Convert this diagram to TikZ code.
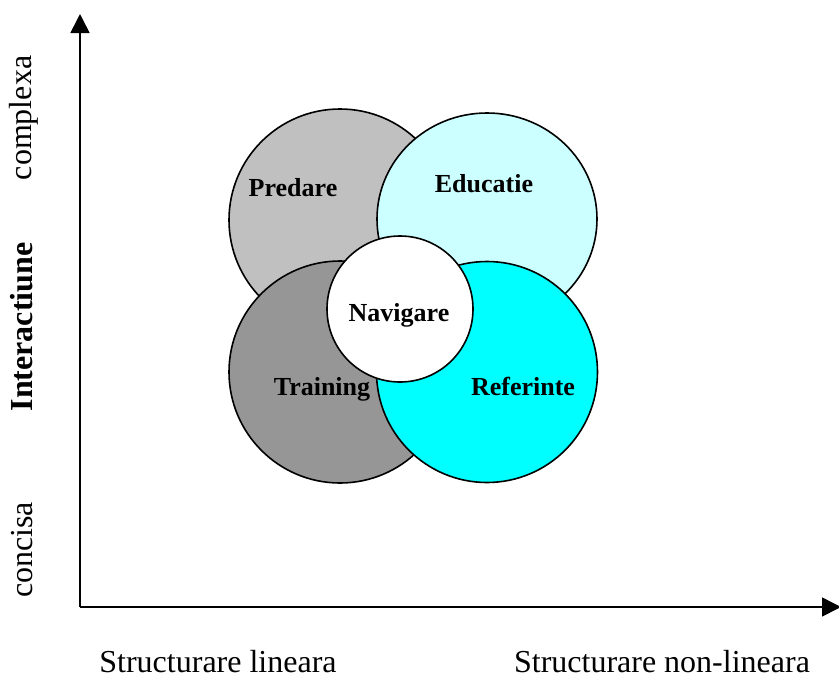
\documentclass[tikz,border=0pt]{standalone}
\usepackage{fontspec}
\setmainfont{Liberation Serif}
\usetikzlibrary{arrows.meta,shapes.geometric}
\definecolor{cPred}{HTML}{C0C0C0}
\definecolor{cEduc}{HTML}{CCFFFF}
\definecolor{cTrain}{HTML}{969696}
\definecolor{cRef}{HTML}{00FFFF}
\begin{document}
\begin{tikzpicture}[x=1pt,y=-1pt,
  disc/.style={draw=black, line width=1.6pt, inner sep=0pt},
  clabel/.style={font=\fontsize{26}{30}\selectfont\bfseries, anchor=base, inner sep=0pt},
  alabel/.style={font=\fontsize{32}{36}\selectfont, inner sep=0pt},
  blabel/.style={font=\fontsize{32}{36}\selectfont\bfseries, inner sep=0pt},
  axisline/.style={line width=1.6pt, -{Triangle[length=19pt,width=19pt]}}]
\useasboundingbox (0,0) rectangle (839,681);
% axes
\coordinate (origin) at (80,607);
\coordinate (ytip) at (80,14);
\coordinate (xtip) at (841,607);
\draw[axisline] (origin) -- (ytip);
\draw[axisline] (origin) -- (xtip);
% circles
\node[disc, circle, fill=cPred, minimum size=222pt] (predare) at (340,220) {};
\node[disc, ellipse, fill=cEduc, minimum width=220pt, minimum height=212pt] (educatie) at (487,219) {};
\node[disc, circle, fill=cTrain, minimum size=222pt] (training) at (340,372) {};
\node[disc, circle, fill=cRef, minimum size=221pt] (referinte) at (487,372) {};
\node[disc, circle, fill=white, minimum size=146pt] (navigare) at (400,309) {};
% circle labels
\node[clabel] (tpred) at (293,196) {Predare};
\node[clabel] (teduc) at (484,192) {Educatie};
\node[clabel] (tnav) at (399,321) {Navigare};
\node[clabel] (ttrain) at (322,395) {Training};
\node[clabel] (tref) at (523,395) {Referinte};
% axis labels
\node[alabel, rotate=90] (complexa) at (24,118) {complexa};
\node[blabel, rotate=90] (interact) at (22,327) {Interactiune};
\node[alabel, rotate=90] (concisa) at (22,550) {concisa};
\node[alabel, anchor=base] (slin) at (218,672) {Structurare lineara};
\node[alabel, anchor=base] (snonlin) at (662,672) {Structurare non-lineara};
\end{tikzpicture}
\end{document}
